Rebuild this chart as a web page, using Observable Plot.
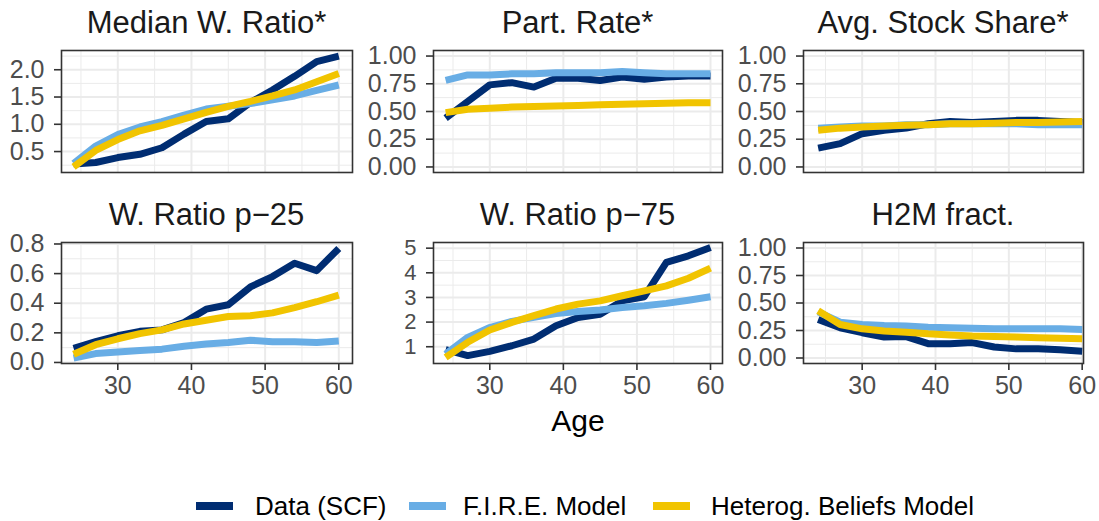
<!DOCTYPE html>
<html>
<head>
<meta charset="utf-8">
<script src="https://cdn.jsdelivr.net/npm/d3@7"></script>
<script src="https://cdn.jsdelivr.net/npm/@observablehq/plot@0.6"></script>
<style>
  html, body { margin: 0; padding: 0; background: #ffffff; }
  #chart { position: relative; width: 1099px; height: 521px; overflow: hidden; font-family: "Liberation Sans", Arial, Helvetica, sans-serif; }
  .ptitle { position: absolute; font-size: 31px; line-height: 31px; color: #1A1A1A; text-align: center; white-space: nowrap; }
  .axtitle { position: absolute; font-size: 30px; line-height: 30px; color: #000; text-align: center; white-space: nowrap; }
  .lkey { position: absolute; height: 8px; width: 37px; }
  .ltext { position: absolute; font-size: 26px; line-height: 26px; color: #000; white-space: nowrap; }
  svg { position: absolute; overflow: visible; }
</style>
</head>
<body>
<div id="chart"></div>
<script>
// ---------------- data ----------------
const ages = [24, 27, 30, 33, 36, 39, 42, 45, 48, 51, 54, 57, 60];
const seriesNames = ["Data (SCF)", "F.I.R.E. Model", "Heterog. Beliefs Model"];
const seriesColors = ["#002D72", "#68ADE5", "#F1C400"];
const panelTitles = ["Median W. Ratio*", "Part. Rate*", "Avg. Stock Share*", "W. Ratio p\u221225", "W. Ratio p\u221275", "H2M fract."];
const xAxisTitle = "Age";
const xTicks = [30, 40, 50, 60];
const xMinor = [25, 35, 45, 55];

// Median W. Ratio*
const medianData = [0.27, 0.30, 0.39, 0.45, 0.57, 0.82, 1.05, 1.10, 1.40, 1.63, 1.88, 2.15, 2.25];
const medianFire = [0.28, 0.60, 0.81, 0.95, 1.05, 1.17, 1.28, 1.33, 1.38, 1.45, 1.52, 1.62, 1.72];
const medianHet  = [0.22, 0.52, 0.72, 0.88, 0.98, 1.10, 1.22, 1.33, 1.42, 1.52, 1.63, 1.78, 1.93];
const medianTicks = [0.5, 1.0, 1.5, 2.0];
const medianMinor = [0.25, 0.75, 1.25, 1.75, 2.25];

// Part. Rate*
const partData = [0.44, 0.59, 0.74, 0.76, 0.72, 0.80, 0.80, 0.78, 0.81, 0.79, 0.81, 0.82, 0.82];
const partFire = [0.78, 0.83, 0.83, 0.84, 0.84, 0.85, 0.85, 0.85, 0.86, 0.85, 0.84, 0.84, 0.84];
const partHet  = [0.49, 0.52, 0.53, 0.54, 0.545, 0.55, 0.555, 0.56, 0.565, 0.57, 0.575, 0.58, 0.58];

// Avg. Stock Share*
const stockData = [0.17, 0.21, 0.30, 0.33, 0.35, 0.39, 0.41, 0.40, 0.41, 0.42, 0.42, 0.41, 0.40];
const stockFire = [0.35, 0.36, 0.37, 0.37, 0.38, 0.38, 0.39, 0.39, 0.39, 0.39, 0.38, 0.38, 0.38];
const stockHet  = [0.33, 0.35, 0.36, 0.37, 0.375, 0.38, 0.39, 0.39, 0.395, 0.40, 0.40, 0.405, 0.41];

// W. Ratio p-25
const p25Data = [0.096, 0.14, 0.18, 0.21, 0.22, 0.27, 0.36, 0.39, 0.51, 0.58, 0.67, 0.62, 0.77];
const p25Fire = [0.03, 0.06, 0.07, 0.08, 0.09, 0.11, 0.125, 0.135, 0.15, 0.14, 0.14, 0.135, 0.145];
const p25Het  = [0.055, 0.12, 0.16, 0.195, 0.22, 0.26, 0.285, 0.31, 0.315, 0.335, 0.37, 0.41, 0.455];
const p25Ticks = [0.0, 0.2, 0.4, 0.6, 0.8];
const p25Minor = [0.1, 0.3, 0.5, 0.7];

// W. Ratio p-75
const p75Data = [0.88, 0.64, 0.81, 1.04, 1.31, 1.85, 2.19, 2.32, 2.86, 3.03, 4.42, 4.69, 5.03];
const p75Fire = [0.70, 1.38, 1.78, 2.03, 2.19, 2.35, 2.43, 2.49, 2.59, 2.66, 2.76, 2.89, 3.03];
const p75Het  = [0.57, 1.18, 1.68, 1.99, 2.26, 2.53, 2.73, 2.86, 3.07, 3.27, 3.47, 3.78, 4.19];
const p75Ticks = [1, 2, 3, 4, 5];
const p75Minor = [1.5, 2.5, 3.5, 4.5];

// H2M fract.
const h2mData = [0.35, 0.275, 0.23, 0.19, 0.195, 0.13, 0.13, 0.14, 0.10, 0.083, 0.083, 0.074, 0.062];
const h2mFire = [0.42, 0.325, 0.305, 0.295, 0.29, 0.28, 0.275, 0.27, 0.265, 0.265, 0.265, 0.265, 0.26];
const h2mHet  = [0.43, 0.305, 0.265, 0.245, 0.235, 0.22, 0.21, 0.20, 0.195, 0.19, 0.185, 0.18, 0.175];

const shareTicks = [0.00, 0.25, 0.50, 0.75, 1.00];
const shareMinor = [0.125, 0.375, 0.625, 0.875];

// ---------------- layout ----------------
const chart = document.getElementById("chart");
const colGeom = [
  {left: 61, right: 352, xDomain: [22.36, 61.86]},
  {left: 433, right: 722, xDomain: [22.35, 61.63]},
  {left: 803, right: 1083, xDomain: [22.0, 60.18]}
];
const rowGeom = [
  {top: 50, bottom: 172},
  {top: 242, bottom: 363}
];

function toRows(arrs) {
  return arrs.flatMap((arr, si) => arr.map((v, i) => ({age: ages[i], value: v, series: seriesNames[si]})));
}

const panels = [
  {series: [medianData, medianFire, medianHet], yDomain: [0.116, 2.353], yTicks: medianTicks, yMinor: medianMinor, fmt: d3.format(".1f"), fs: 25},
  {series: [partData, partFire, partHet], yDomain: [-0.05, 1.05], yTicks: shareTicks, yMinor: shareMinor, fmt: d3.format(".2f"), fs: 25},
  {series: [stockData, stockFire, stockHet], yDomain: [-0.05, 1.05], yTicks: shareTicks, yMinor: shareMinor, fmt: d3.format(".2f"), fs: 25},
  {series: [p25Data, p25Fire, p25Het], yDomain: [-0.007, 0.81], yTicks: p25Ticks, yMinor: p25Minor, fmt: d3.format(".1f"), fs: 25},
  {series: [p75Data, p75Fire, p75Het], yDomain: [0.32, 5.23], yTicks: p75Ticks, yMinor: p75Minor, fmt: d3.format("d"), fs: 22},
  {series: [h2mData, h2mFire, h2mHet], yDomain: [-0.05, 1.05], yTicks: shareTicks, yMinor: shareMinor, fmt: d3.format(".2f"), fs: 25}
];

const mL = 80, mR = 10, mT = 10, mB = 50;

panels.forEach((p, idx) => {
  const r = Math.floor(idx / 3), c = idx % 3;
  const cg = colGeom[c], rg = rowGeom[r];
  const w = cg.right - cg.left, h = rg.bottom - rg.top;
  const showX = r === 1;
  const grid = "#EBEBEB";
  const marks = [
    Plot.gridY(p.yMinor, {stroke: grid, strokeOpacity: 1, strokeWidth: 1}),
    Plot.gridX(xMinor, {stroke: grid, strokeOpacity: 1, strokeWidth: 1}),
    Plot.gridY(p.yTicks, {stroke: grid, strokeOpacity: 1, strokeWidth: 2}),
    Plot.gridX(xTicks, {stroke: grid, strokeOpacity: 1, strokeWidth: 2}),
    Plot.line(toRows(p.series), {x: "age", y: "value", stroke: "series", z: "series", strokeWidth: 7, strokeLinecap: "butt", strokeLinejoin: "round"}),
    Plot.frame({stroke: "#333333", strokeWidth: 1.6}),
    Plot.axisY(p.yTicks, {tickSize: 7, tickPadding: 10, tickFormat: p.fmt, fontSize: p.fs, fill: "#4D4D4D", stroke: "#333333", strokeWidth: 1.6, label: null})
  ];
  if (showX) {
    marks.push(Plot.axisX(xTicks, {tickSize: 7, tickPadding: 6, tickFormat: d3.format("d"), fontSize: 25, fill: "#4D4D4D", stroke: "#333333", strokeWidth: 1.6, label: null}));
  }
  const svg = Plot.plot({
    width: mL + w + mR,
    height: mT + h + mB,
    marginLeft: mL, marginRight: mR, marginTop: mT, marginBottom: mB,
    style: {fontFamily: "'Liberation Sans', Arial, Helvetica, sans-serif", background: "transparent", overflow: "visible"},
    x: {domain: cg.xDomain, axis: null, label: null},
    y: {domain: p.yDomain, axis: null, label: null},
    color: {domain: seriesNames, range: seriesColors},
    marks
  });
  svg.style.left = (cg.left - mL) + "px";
  svg.style.top = (rg.top - mT) + "px";
  chart.appendChild(svg);

  // panel title
  const t = document.createElement("div");
  t.className = "ptitle";
  t.textContent = panelTitles[idx];
  t.style.left = cg.left + "px";
  t.style.width = w + "px";
  t.style.top = (r === 0 ? 7 : 199) + "px";
  chart.appendChild(t);
});

// x axis title
const at = document.createElement("div");
at.className = "axtitle";
at.textContent = xAxisTitle;
at.style.left = "478px";
at.style.width = "200px";
at.style.top = "406px";
chart.appendChild(at);

// legend
const legendPos = [
  {key: 196, text: 255},
  {key: 409, text: 463},
  {key: 653, text: 711}
];
seriesNames.forEach((name, i) => {
  const k = document.createElement("div");
  k.className = "lkey";
  k.style.left = legendPos[i].key + "px";
  k.style.top = "502px";
  k.style.background = seriesColors[i];
  chart.appendChild(k);
  const tx = document.createElement("div");
  tx.className = "ltext";
  tx.textContent = name;
  tx.style.left = legendPos[i].text + "px";
  tx.style.top = "493px";
  chart.appendChild(tx);
});
</script>
</body>
</html>
